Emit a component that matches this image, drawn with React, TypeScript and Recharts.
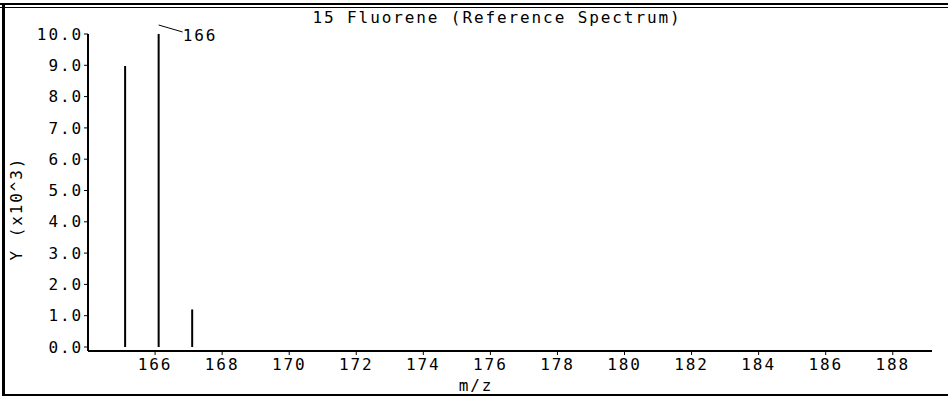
import React from "react";
import { Bar, BarChart, LabelList, XAxis, YAxis } from "recharts";

// peaks
const mz = [165.1, 166.1, 167.1];
const intensity = [8.98, 10.0, 1.2];
const peakLabels = ["", "166", ""];

const xTicks = [166, 168, 170, 172, 174, 176, 178, 180, 182, 184, 186, 188];
const yTicks = [0, 1, 2, 3, 4, 5, 6, 7, 8, 9, 10];

const title = "15 Fluorene (Reference Spectrum)";
const xTitle = "m/z";
const yTitle = "Y (x10^3)";

const FONT = "'DejaVu Sans Mono', 'Liberation Mono', monospace";
const FS = 16;
const LS = 1.9;
const tickStyle = { fontSize: FS, fill: "#000", fontFamily: FONT, letterSpacing: LS };

const data = mz.map((m, i) => ({ mz: m, y: intensity[i], label: peakLabels[i] }));

type LabelProps = { x?: number; y?: number; width?: number; value?: string };

function PeakLabel({ x, y, width, value }: LabelProps) {
  if (!value || x == null || y == null) return null;
  const cx = Number(x) + Number(width ?? 0) / 2;
  const top = Number(y);
  return (
    <g>
      <polyline
        points={`${cx},${top - 9} ${cx + 24},${top - 2}`}
        fill="none"
        stroke="#000"
        strokeWidth={1}
      />
      <text x={cx + 24} y={top + 7} fontSize={FS} fontFamily={FONT} letterSpacing={LS} fill="#000">
        {value}
      </text>
    </g>
  );
}

type VB = { viewBox?: { x: number; y: number; width: number; height: number } };

function YTitle({ viewBox }: VB) {
  if (!viewBox) return null;
  const cx = viewBox.x + 16;
  const cy = viewBox.y + viewBox.height / 2 + 16;
  return (
    <text
      x={cx}
      y={cy}
      transform={`rotate(-90 ${cx} ${cy})`}
      textAnchor="middle"
      dominantBaseline="central"
      fontSize={FS}
      fontFamily={FONT}
      letterSpacing={LS}
      fill="#000"
    >
      {yTitle}
    </text>
  );
}

function XTitle({ viewBox }: VB) {
  if (!viewBox) return null;
  const cx = viewBox.x + viewBox.width / 2 - 34;
  return (
    <text
      x={cx}
      y={viewBox.y + viewBox.height - 4}
      textAnchor="middle"
      fontSize={FS}
      fontFamily={FONT}
      letterSpacing={LS}
      fill="#000"
    >
      {xTitle}
    </text>
  );
}

export default function App() {
  return (
    <div style={{ position: "absolute", left: 0, top: 0, width: 948, height: 397, background: "#fff" }}>
      {/* frame */}
      <div style={{ position: "absolute", left: 0, top: 3, width: 948, height: 2, background: "#000" }} />
      <div style={{ position: "absolute", left: 0, top: 7, width: 948, height: 1, background: "#000" }} />
      <div style={{ position: "absolute", left: 2, top: 3, width: 3, height: 393, background: "#000" }} />
      <div style={{ position: "absolute", left: 2, top: 394, width: 946, height: 2, background: "#000" }} />

      <div
        style={{
          position: "absolute",
          left: 0,
          width: 994,
          top: 9,
          textAlign: "center",
          fontFamily: FONT,
          fontSize: FS,
          letterSpacing: LS,
          color: "#000",
          lineHeight: "18px",
        }}
      >
        {title}
      </div>

      <BarChart
        width={948}
        height={397}
        data={data}
        margin={{ top: 34, right: 16, bottom: 2, left: 0 }}
        style={{ position: "absolute", left: 0, top: 0 }}
      >
        <XAxis
          dataKey="mz"
          type="number"
          domain={[164, 189.17]}
          ticks={xTicks}
          allowDataOverflow
          height={44}
          tick={tickStyle}
          tickSize={4}
          tickMargin={4}
          axisLine={{ stroke: "#000", strokeWidth: 2 }}
          tickLine={{ stroke: "#000" }}
          label={<XTitle />}
        />
        <YAxis
          type="number"
          domain={[0, 10]}
          ticks={yTicks}
          width={88}
          padding={{ top: 0, bottom: 4 }}
          tickFormatter={(v: number) => v.toFixed(1)}
          tick={tickStyle}
          tickSize={4}
          tickMargin={1}
          axisLine={{ stroke: "#000", strokeWidth: 2 }}
          tickLine={{ stroke: "#000" }}
          label={<YTitle />}
        />
        <Bar dataKey="y" fill="#000" barSize={2} isAnimationActive={false}>
          <LabelList dataKey="label" content={<PeakLabel />} />
        </Bar>
      </BarChart>
    </div>
  );
}
